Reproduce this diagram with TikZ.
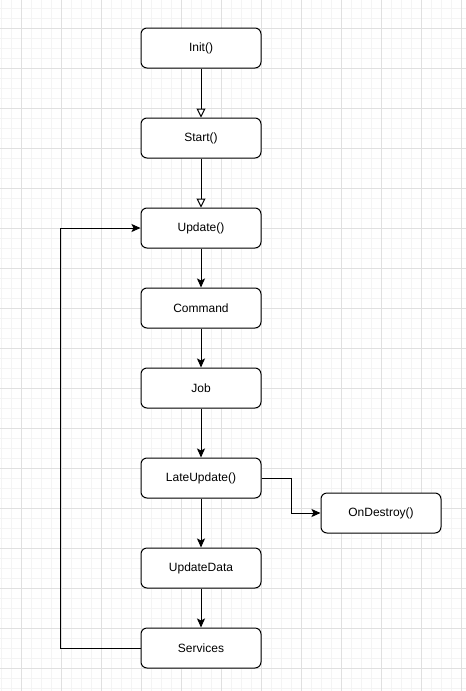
\documentclass[tikz,border=0pt]{standalone}
\usepackage{fontspec}
\setmainfont{Liberation Sans}
\usepackage{xcolor}
\usetikzlibrary{arrows.meta}

\definecolor{minorgrid}{HTML}{F4F4F4}
\definecolor{majorgrid}{HTML}{E0E0E0}

\begin{document}
\begin{tikzpicture}[x=1pt, y=-1pt,
	box/.style={draw, fill=white, rounded corners=6pt, line width=1pt,
		minimum width=120pt, minimum height=40pt,
		font=\fontsize{12}{14}\selectfont},
	flow/.style={line width=1pt, -{Stealth[length=9pt, width=8pt, inset=2pt]}},
	hollow/.style={line width=1pt, -{Triangle[open, fill=white, length=9pt, width=9pt]}}]

	\useasboundingbox (0,0) rectangle (466,691);

	% background grid
	\foreach \x in {1,11,...,461}
		\draw[color=minorgrid, line width=0.7pt] (\x,0) -- (\x,691);
	\foreach \y in {8,18,...,688}
		\draw[color=minorgrid, line width=0.7pt] (0,\y) -- (466,\y);
	\foreach \x in {21,61,...,461}
		\draw[color=majorgrid, line width=0.7pt] (\x,0) -- (\x,691);
	\foreach \y in {28,68,...,668}
		\draw[color=majorgrid, line width=0.7pt] (0,\y) -- (466,\y);

	% boxes
	\node[box] (init) at (201, 48) {Init()};
	\node[box] (start) at (201, 138) {Start()};
	\node[box] (update) at (201, 228) {Update()};
	\node[box] (command) at (201, 308) {Command};
	\node[box] (job) at (201, 388) {Job};
	\node[box] (late) at (201, 478) {LateUpdate()};
	\node[box] (destroy) at (381, 513) {OnDestroy()};
	\node[box] (data) at (201, 568) {UpdateData};
	\node[box] (services) at (201, 648) {Services};

	% arrows
	\draw[hollow] (init) -- (start);
	\draw[hollow] (start) -- (update);
	\draw[flow] (update) -- (command);
	\draw[flow] (command) -- (job);
	\draw[flow] (job) -- (late);
	\draw[flow] (late) -- (data);
	\draw[flow] (data) -- (services);
	\draw[flow] (late.east) -- ++(30,0) |- (destroy.west);
	\draw[flow] (services.west) -- ++(-80,0) |- (update.west);
\end{tikzpicture}
\end{document}
